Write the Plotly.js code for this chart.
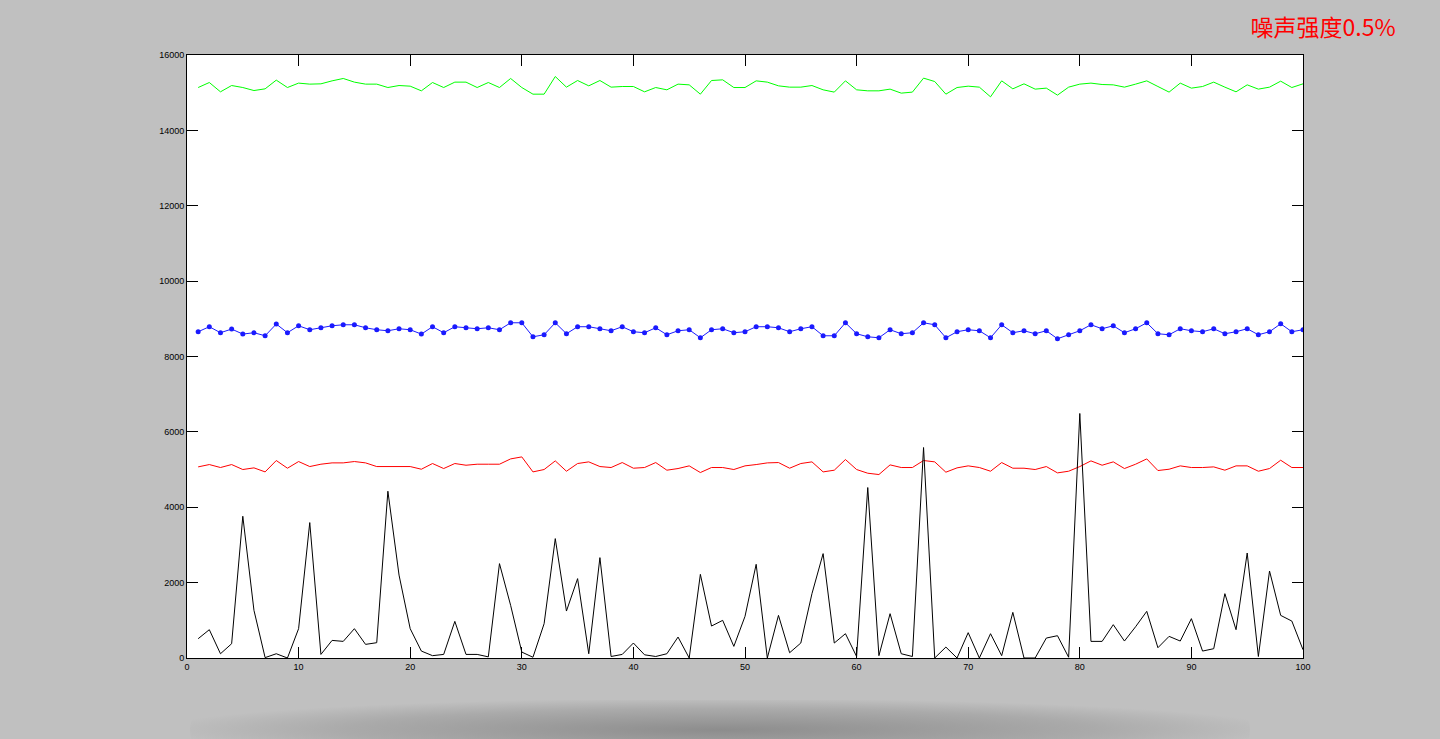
<!DOCTYPE html>
<html>
<head>
<meta charset="utf-8">
<script src="https://cdn.plot.ly/plotly-3.0.1.min.js"></script>
<style>
  html, body { margin:0; padding:0; background:#c0c0c0; overflow:hidden; }
  #chart { width:1440px; height:739px; position:relative; }
  #shade { position:absolute; left:190px; top:700px; width:1060px; height:60px;
           border-radius:30px; background:radial-gradient(ellipse at center, rgba(90,90,90,0.5) 0%, rgba(120,120,120,0.3) 50%, rgba(192,192,192,0) 75%);
           pointer-events:none; }
</style>
</head>
<body>
<div id="chart"></div>
<div id="shade"></div>
<script>
// x positions 1..100
const xs = Array.from({length: 100}, (_, i) => i + 1);

const greenVals = [15137,15270,15023,15190,15137,15057,15102,15333,15137,15254,
  15227,15235,15314,15377,15280,15227,15227,15137,15190,15173,
  15049,15270,15137,15280,15280,15137,15270,15137,15377,15137,
  14961,14961,15429,15147,15323,15182,15323,15147,15164,15164,
  15023,15137,15076,15227,15208,14961,15323,15341,15137,15137,
  15314,15280,15182,15147,15147,15190,15076,15015,15314,15076,
  15049,15049,15094,14988,15015,15386,15296,14961,15137,15173,
  15147,14890,15314,15102,15235,15094,15121,14935,15147,15227,
  15254,15217,15208,15147,15227,15314,15164,15015,15254,15121,
  15164,15280,15147,15023,15208,15094,15147,15306,15137,15235];

const blueVals = [8657,8790,8631,8728,8595,8631,8550,8861,8631,8815,
  8710,8762,8815,8842,8842,8762,8710,8683,8736,8710,
  8595,8790,8631,8790,8762,8736,8762,8710,8895,8895,
  8523,8577,8895,8604,8790,8790,8736,8683,8790,8657,
  8631,8762,8577,8683,8710,8497,8710,8736,8631,8657,
  8790,8790,8762,8657,8736,8790,8550,8550,8895,8604,
  8523,8497,8710,8604,8631,8895,8842,8497,8657,8710,
  8683,8497,8842,8631,8683,8604,8683,8470,8577,8683,
  8842,8736,8815,8631,8736,8895,8604,8577,8736,8683,
  8657,8736,8604,8657,8736,8577,8657,8868,8657,8710];

const redVals = [5071,5133,5054,5133,5001,5045,4938,5240,5036,5213,
  5080,5142,5177,5177,5213,5177,5080,5080,5098,5080,
  5009,5160,5027,5160,5115,5142,5142,5142,5283,5336,
  4938,5001,5230,4956,5160,5204,5080,5054,5186,5036,
  5054,5186,4983,5027,5098,4921,5054,5054,5001,5098,
  5133,5177,5186,5036,5160,5204,4938,4983,5266,5001,
  4903,4868,5124,5054,5054,5240,5204,4930,5045,5098,
  5054,4956,5186,5036,5036,5001,5080,4912,4956,5080,
  5230,5115,5204,5027,5142,5283,4974,5009,5098,5054,
  5054,5071,4983,5098,5098,4956,5027,5248,5054,5054];

const blackVals = [512,751,113,379,3761,1264,10,113,0,778,
  3593,95,467,441,778,361,406,4425,2200,778,
  184,62,95,972,95,95,30,2504,1397,157,
  20,911,3168,1246,2106,113,2663,40,95,397,
  85,40,113,556,0,2220,848,999,308,1105,
  2486,0,1131,140,397,1707,2770,397,645,40,
  4523,62,1176,113,40,5585,0,290,0,672,
  0,645,62,1211,0,0,529,592,20,6488,
  441,441,884,450,830,1238,273,574,450,1044,
  184,247,1707,751,2786,40,2308,1131,980,220];

const xTicks = [0,10,20,30,40,50,60,70,80,90,100];
const yTicks = [0,2000,4000,6000,8000,10000,12000,14000,16000];
const titleText = '噪声强度0.5%';

const traces = [
  {x: xs, y: greenVals, type: 'scatter', mode: 'lines', line: {color: '#00ff00', width: 1}},
  {x: xs, y: blueVals, type: 'scatter', mode: 'lines+markers', line: {color: '#1a1aff', width: 1},
   marker: {color: '#1a1aff', size: 5}},
  {x: xs, y: redVals, type: 'scatter', mode: 'lines', line: {color: '#ff0000', width: 1}},
  {x: xs, y: blackVals, type: 'scatter', mode: 'lines', line: {color: '#000000', width: 1}}
];

const axisCommon = {
  showgrid: false, zeroline: false, showline: true, linecolor: '#000', linewidth: 1,
  mirror: 'ticks', ticks: 'inside', ticklen: 11, tickwidth: 1, tickcolor: '#000',
  tickfont: {family: 'Liberation Sans, Arial, sans-serif', size: 9, color: '#000'},
  fixedrange: true
};

const layout = {
  width: 1440, height: 739,
  paper_bgcolor: '#c0c0c0', plot_bgcolor: '#ffffff',
  margin: {l: 187, r: 137, t: 55, b: 81},
  showlegend: false,
  title: {text: titleText, x: 0.9188, xref: 'container', xanchor: 'center', y: 0.962, yref: 'container', yanchor: 'middle',
          font: {family: 'Noto Sans CJK SC, sans-serif', size: 23, color: '#ff0000'}},
  xaxis: Object.assign({}, axisCommon, {range: [0, 100], tickvals: xTicks, ticktext: xTicks.map(String)}),
  yaxis: Object.assign({}, axisCommon, {range: [0, 16000], tickvals: yTicks, ticktext: yTicks.map(String)})
};

Plotly.newPlot('chart', traces, layout, {displayModeBar: false, staticPlot: true});
</script>
</body>
</html>
